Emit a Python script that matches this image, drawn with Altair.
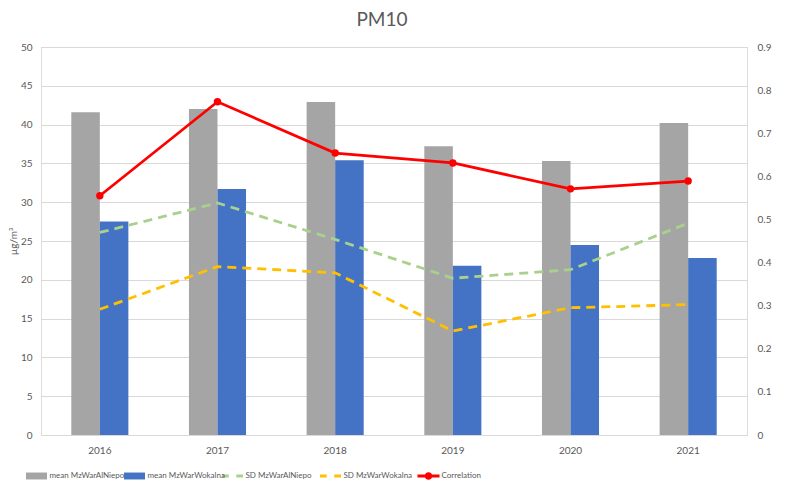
import altair as alt
import pandas as pd

years = ["2016", "2017", "2018", "2019", "2020", "2021"]
mean_alniepo = [41.6, 42.0, 42.9, 37.2, 35.3, 40.2]
mean_wokalna = [27.5, 31.7, 35.4, 21.8, 24.5, 22.8]
sd_alniepo = [26.1, 29.9, 25.2, 20.2, 21.3, 27.3]
sd_wokalna = [16.2, 21.7, 20.9, 13.4, 16.4, 16.8]
correlation = [0.555, 0.773, 0.654, 0.631, 0.571, 0.589]

series_names = ["mean MzWarAlNiepo", "mean MzWarWokalna", "SD MzWarAlNiepo",
                "SD MzWarWokalna", "Correlation"]
series_colors = ["#A5A5A5", "#4472C4", "#A9D18E", "#FFC000", "#FF0000"]

FONT = "Lato"
TXT = "#595959"
GRID = "#D9D9D9"

bars_df = pd.DataFrame({
    "year": years * 2,
    "series": [series_names[0]] * 6 + [series_names[1]] * 6,
    "value": mean_alniepo + mean_wokalna,
})
sd_df = pd.DataFrame({
    "year": years * 2,
    "series": [series_names[2]] * 6 + [series_names[3]] * 6,
    "value": sd_alniepo + sd_wokalna,
})
corr_df = pd.DataFrame({"year": years, "series": series_names[4], "value": correlation})
legend_df = pd.DataFrame({"series": series_names})

color_scale = alt.Scale(domain=series_names, range=series_colors)

x_enc = alt.X("year:N", scale=alt.Scale(paddingInner=0.515, paddingOuter=0.2575),
              axis=alt.Axis(title=None, labelAngle=0, ticks=False, domainColor=GRID,
                            labelColor=TXT, labelFontSize=10, labelPadding=10, grid=False))

left_axis = alt.Axis(values=list(range(0, 51, 5)), grid=True, gridColor=GRID,
                     domain=False, ticks=False, labelPadding=9, labelColor=TXT,
                     labelFontSize=10, labelOverlap=False, title="µg/m³",
                     titleFontWeight="normal", titleFontSize=10, titleColor=TXT,
                     titlePadding=2)
y_left = alt.Y("value:Q", scale=alt.Scale(domain=[0, 50], nice=False), axis=left_axis)

bars = alt.Chart(bars_df).mark_bar().encode(
    x=x_enc,
    xOffset=alt.XOffset("series:N", scale=alt.Scale(domain=series_names[:2], paddingInner=0, paddingOuter=0)),
    y=y_left,
    color=alt.Color("series:N", scale=color_scale, legend=None),
)

sd_lines = alt.Chart(sd_df).mark_line(strokeDash=[9, 6], strokeWidth=2.8).encode(
    x=x_enc,
    y=y_left,
    color=alt.Color("series:N", scale=color_scale, legend=None),
    detail="series:N",
)

left = alt.layer(bars, sd_lines)

corr_line = alt.Chart(corr_df).mark_line(
    strokeWidth=2.8, point=alt.OverlayMarkDef(filled=True, size=55, color="#FF0000")
).encode(
    x=x_enc,
    y=alt.Y("value:Q", scale=alt.Scale(domain=[0, 0.9], nice=False),
            axis=alt.Axis(orient="right", values=[i / 10 for i in range(10)], format=".1~f",
                          grid=False, domain=False, ticks=False, labelPadding=10,
                          labelOverlap=False, labelColor=TXT, labelFontSize=10, title=None)),
    color=alt.Color("series:N", scale=color_scale, legend=None),
)

main = alt.layer(left, corr_line).resolve_scale(y="independent")

shape_paths = [
    "M-1,-0.33L1,-0.33L1,0.33L-1,0.33Z",
    "M-1,-0.33L1,-0.33L1,0.33L-1,0.33Z",
    "M-1,-0.14L-0.36,-0.14L-0.36,0.14L-1,0.14Z M0.36,-0.14L1,-0.14L1,0.14L0.36,0.14Z",
    "M-1,-0.14L-0.36,-0.14L-0.36,0.14L-1,0.14Z M0.36,-0.14L1,-0.14L1,0.14L0.36,0.14Z",
    "M-1.05,-0.14L1.05,-0.14L1.05,0.14L-1.05,0.14Z M0.36,0A0.36,0.36 0 1,1 -0.36,0A0.36,0.36 0 1,1 0.36,0Z",
]

leg_x = alt.X("series:N", scale=alt.Scale(type="point", domain=series_names,
                                          range=[-4.5, 387.5], padding=0), axis=None)
leg_sym = alt.Chart(legend_df).mark_point(filled=True, size=441, opacity=1, strokeWidth=0).encode(
    x=leg_x,
    y=alt.value(429),
    shape=alt.Shape("series:N", scale=alt.Scale(domain=series_names, range=shape_paths), legend=None),
    color=alt.Color("series:N", scale=color_scale, legend=None),
)
leg_txt = alt.Chart(legend_df).mark_text(align="left", baseline="middle", dx=13,
                                         fontSize=8, color=TXT, font=FONT).encode(
    x=leg_x,
    y=alt.value(429),
    text="series:N",
)

chart = alt.layer(main, leg_sym, leg_txt).resolve_scale(x="independent").properties(
    width=706, height=388,
    padding={"left": 33, "top": 39, "right": 45, "bottom": 57},
    autosize="none",
    title=alt.Title("PM10", fontSize=19, color=TXT, fontWeight="normal",
                    anchor="middle", offset=12, dx=-12, font=FONT),
).configure_view(stroke=None).configure(font=FONT, background="white")

chart.save("out.html", embed_options={"renderer": "svg", "actions": False})
